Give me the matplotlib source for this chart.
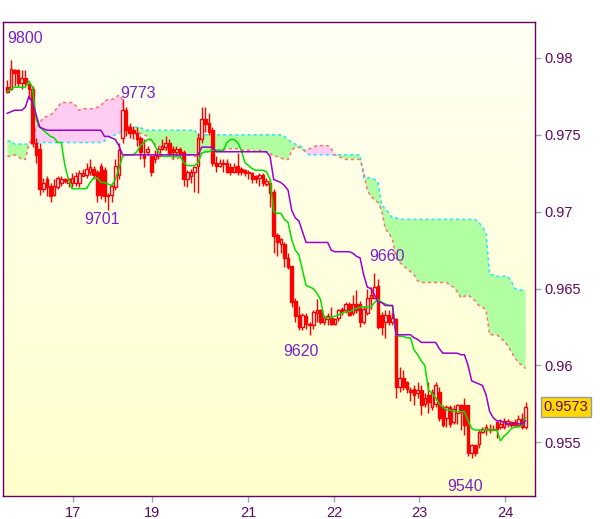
import numpy as np
import matplotlib
matplotlib.use("Agg")
import matplotlib.pyplot as plt
from matplotlib.transforms import blended_transform_factory

# Hourly candles, prices in units of 0.0001
opens = [9781, 9780, 9792, 9792, 9784, 9787, 9783, 9780, 9745, 9741,
         9715, 9721, 9717, 9711, 9716, 9719, 9721, 9719, 9719, 9719,
         9719, 9723, 9724, 9726, 9728, 9726, 9730, 9727, 9710, 9711,
         9716, 9724, 9748, 9766, 9755, 9753, 9751, 9748, 9737, 9739,
         9736, 9734, 9736, 9741, 9742, 9745, 9741, 9739, 9741, 9739,
         9721, 9723, 9726, 9730, 9747, 9760, 9758, 9753, 9732, 9730,
         9732, 9732, 9729, 9726, 9730, 9728, 9727, 9726, 9725, 9723,
         9722, 9724, 9718, 9719, 9713, 9685, 9679, 9679, 9670, 9665,
         9642, 9633, 9625, 9632, 9627, 9626, 9634, 9636, 9628, 9630,
         9631, 9627, 9631, 9637, 9636, 9640, 9634, 9640, 9640, 9628,
         9634, 9644, 9644, 9652, 9633, 9628, 9633, 9628, 9630, 9586,
         9592, 9589, 9584, 9585, 9582, 9584, 9575, 9581, 9573, 9575,
         9583, 9573, 9566, 9573, 9563, 9569, 9574, 9574, 9574, 9543,
         9548, 9549, 9557, 9558, 9558, 9558, 9563, 9560, 9560, 9562,
         9563, 9561, 9561, 9565, 9560]
closes = [9778, 9793, 9790, 9784, 9787, 9784, 9780, 9745, 9737, 9715,
          9719, 9716, 9710, 9717, 9722, 9721, 9720, 9721, 9722, 9723,
          9725, 9725, 9728, 9729, 9724, 9711, 9711, 9710, 9711, 9717,
          9730, 9740, 9766, 9753, 9751, 9751, 9747, 9739, 9735, 9741,
          9726, 9737, 9741, 9743, 9745, 9738, 9739, 9741, 9738, 9721,
          9726, 9726, 9729, 9748, 9760, 9757, 9752, 9732, 9730, 9732,
          9731, 9726, 9726, 9729, 9726, 9726, 9725, 9725, 9721, 9721,
          9724, 9719, 9720, 9712, 9684, 9680, 9682, 9670, 9664, 9641,
          9632, 9625, 9633, 9627, 9626, 9635, 9636, 9628, 9631, 9632,
          9627, 9630, 9636, 9635, 9640, 9633, 9640, 9636, 9628, 9637,
          9644, 9646, 9651, 9625, 9625, 9633, 9628, 9631, 9586, 9592,
          9586, 9585, 9583, 9581, 9584, 9574, 9579, 9576, 9583, 9587,
          9566, 9561, 9573, 9562, 9572, 9574, 9570, 9561, 9543, 9548,
          9543, 9557, 9559, 9560, 9559, 9559, 9559, 9562, 9564, 9564,
          9561, 9563, 9565, 9560, 9573]
highs = [9786, 9799, 9793, 9793, 9792, 9792, 9784, 9782, 9748, 9745,
         9722, 9723, 9719, 9721, 9723, 9723, 9722, 9722, 9725, 9726,
         9727, 9728, 9732, 9734, 9730, 9727, 9732, 9729, 9712, 9719,
         9734, 9745, 9773, 9768, 9758, 9756, 9755, 9749, 9747, 9743,
         9737, 9740, 9743, 9747, 9749, 9747, 9743, 9743, 9742, 9740,
         9727, 9728, 9730, 9751, 9768, 9768, 9764, 9755, 9736, 9734,
         9734, 9734, 9732, 9732, 9738, 9729, 9728, 9727, 9726, 9724,
         9725, 9725, 9722, 9721, 9715, 9686, 9683, 9680, 9673, 9665,
         9644, 9639, 9634, 9634, 9628, 9636, 9643, 9637, 9633, 9634,
         9638, 9631, 9637, 9638, 9641, 9641, 9646, 9649, 9642, 9639,
         9650, 9651, 9660, 9656, 9635, 9636, 9636, 9635, 9631, 9599,
         9597, 9590, 9586, 9587, 9589, 9587, 9582, 9589, 9585, 9589,
         9586, 9574, 9574, 9574, 9574, 9575, 9575, 9579, 9574, 9549,
         9548, 9558, 9560, 9562, 9562, 9561, 9563, 9565, 9566, 9565,
         9564, 9565, 9568, 9569, 9576]
lows = [9777, 9779, 9782, 9782, 9780, 9782, 9773, 9742, 9732, 9711,
        9713, 9710, 9706, 9710, 9715, 9717, 9719, 9716, 9716, 9717,
        9716, 9723, 9722, 9724, 9721, 9706, 9708, 9706, 9701, 9706,
        9714, 9721, 9745, 9749, 9748, 9747, 9743, 9734, 9729, 9737,
        9723, 9732, 9734, 9740, 9740, 9737, 9735, 9737, 9735, 9717,
        9716, 9719, 9713, 9712, 9745, 9752, 9750, 9730, 9726, 9729,
        9726, 9725, 9724, 9725, 9724, 9724, 9723, 9721, 9719, 9719,
        9717, 9717, 9717, 9703, 9673, 9671, 9673, 9664, 9663, 9638,
        9628, 9623, 9623, 9624, 9620, 9624, 9628, 9627, 9626, 9626,
        9626, 9626, 9629, 9633, 9634, 9632, 9633, 9634, 9625, 9627,
        9633, 9637, 9643, 9624, 9620, 9618, 9626, 9626, 9579, 9583,
        9584, 9582, 9577, 9574, 9579, 9568, 9573, 9569, 9571, 9573,
        9564, 9560, 9560, 9560, 9562, 9562, 9558, 9555, 9541, 9540,
        9541, 9546, 9556, 9555, 9556, 9558, 9553, 9559, 9559, 9560,
        9560, 9560, 9560, 9559, 9559]

# Ichimoku lines
tenkan = [9778, 9780, 9781, 9781, 9781, 9781, 9785, 9781, 9760, 9755,
          9753, 9751, 9749, 9748, 9745, 9745, 9730, 9721, 9715, 9715,
          9715, 9715, 9715, 9719, 9722, 9722, 9719, 9719, 9718, 9717,
          9721, 9728, 9736, 9737, 9737, 9737, 9739, 9743, 9745, 9747,
          9747, 9743, 9739, 9736, 9736, 9736, 9736, 9736, 9736, 9732,
          9730, 9730, 9730, 9732, 9738, 9739, 9739, 9740, 9740, 9740,
          9740, 9745, 9747, 9747, 9745, 9740, 9732, 9730, 9728, 9727,
          9727, 9727, 9726, 9721, 9700, 9699, 9699, 9695, 9693, 9682,
          9675, 9672, 9662, 9652, 9651, 9650, 9647, 9643, 9631, 9631,
          9631, 9632, 9633, 9634, 9635, 9635, 9636, 9637, 9638, 9638,
          9638, 9638, 9641, 9643, 9641, 9640, 9639, 9639, 9620, 9619,
          9619, 9618, 9618, 9610, 9607, 9603, 9600, 9584, 9582, 9579,
          9575, 9573, 9571, 9571, 9570, 9570, 9570, 9570, 9564, 9559,
          9558, 9558, 9558, 9558, 9558, 9558, 9558, 9551, 9554, 9556,
          9559, 9560, 9560, 9561, 9566]
kijun = [9764, 9765, 9766, 9766, 9766, 9768, 9775, 9771, 9763, 9755,
         9754, 9753, 9753, 9753, 9753, 9753, 9753, 9753, 9753, 9753,
         9753, 9753, 9753, 9753, 9753, 9753, 9753, 9749, 9749, 9748,
         9747, 9743, 9737, 9737, 9737, 9737, 9737, 9737, 9737, 9737,
         9737, 9737, 9737, 9737, 9737, 9737, 9737, 9737, 9737, 9737,
         9737, 9737, 9737, 9737, 9742, 9742, 9742, 9742, 9739, 9739,
         9739, 9739, 9739, 9739, 9739, 9739, 9739, 9739, 9739, 9739,
         9739, 9739, 9739, 9736, 9721, 9720, 9719, 9717, 9714, 9701,
         9696, 9694, 9687, 9680, 9680, 9680, 9680, 9680, 9680, 9680,
         9675, 9674, 9674, 9674, 9674, 9674, 9673, 9671, 9670, 9659,
         9651, 9650, 9646, 9641, 9641, 9639, 9639, 9639, 9620, 9620,
         9620, 9620, 9620, 9618, 9617, 9615, 9615, 9615, 9615, 9615,
         9611, 9608, 9608, 9608, 9608, 9608, 9607, 9607, 9600, 9590,
         9589, 9588, 9587, 9581, 9570, 9566, 9564, 9564, 9563, 9562,
         9562, 9562, 9562, 9562, 9564]
span_a = [9746, 9746, 9744, 9744, 9744, 9744, 9744, 9744, 9744, 9745,
          9745, 9745, 9745, 9745, 9745, 9745, 9745, 9745, 9745, 9745,
          9745, 9745, 9745, 9745, 9745, 9745, 9745, 9746, 9749, 9749,
          9750, 9751, 9753, 9755, 9755, 9755, 9755, 9755, 9753, 9753,
          9753, 9753, 9753, 9753, 9753, 9753, 9753, 9753, 9753, 9753,
          9753, 9753, 9753, 9750, 9750, 9750, 9750, 9750, 9750, 9750,
          9750, 9750, 9750, 9750, 9750, 9750, 9750, 9750, 9750, 9750,
          9750, 9750, 9750, 9750, 9750, 9750, 9750, 9749, 9747, 9745,
          9744, 9743, 9742, 9738, 9737, 9737, 9737, 9737, 9737, 9737,
          9737, 9737, 9737, 9737, 9737, 9737, 9737, 9737, 9737, 9722,
          9722, 9722, 9721, 9719, 9704, 9702, 9699, 9696, 9696, 9695,
          9695, 9695, 9695, 9695, 9695, 9695, 9695, 9695, 9695, 9695,
          9695, 9695, 9695, 9695, 9695, 9695, 9695, 9695, 9695, 9695,
          9695, 9693, 9690, 9686, 9659, 9659, 9658, 9658, 9658, 9658,
          9655, 9650, 9649, 9649, 9649]
span_b = [9736, 9736, 9737, 9736, 9734, 9734, 9744, 9748, 9755, 9758,
          9761, 9762, 9763, 9765, 9768, 9771, 9771, 9771, 9771, 9769,
          9766, 9767, 9767, 9767, 9767, 9768, 9769, 9772, 9773, 9773,
          9774, 9776, 9773, 9758, 9755, 9753, 9752, 9751, 9750, 9749,
          9746, 9744, 9743, 9742, 9740, 9737, 9734, 9734, 9736, 9737,
          9737, 9737, 9736, 9737, 9738, 9739, 9739, 9739, 9740, 9740,
          9740, 9741, 9741, 9741, 9741, 9740, 9740, 9740, 9740, 9739,
          9740, 9739, 9739, 9738, 9736, 9736, 9735, 9734, 9734, 9740,
          9742, 9742, 9740, 9740, 9741, 9742, 9743, 9743, 9743, 9743,
          9741, 9737, 9736, 9735, 9734, 9734, 9734, 9734, 9734, 9726,
          9714, 9710, 9708, 9706, 9701, 9689, 9686, 9682, 9670, 9667,
          9665, 9663, 9661, 9659, 9655, 9654, 9654, 9654, 9654, 9654,
          9654, 9654, 9654, 9652, 9651, 9648, 9644, 9645, 9646, 9644,
          9642, 9639, 9638, 9636, 9620, 9620, 9620, 9618, 9616, 9613,
          9609, 9605, 9602, 9600, 9598]

# day labels and where they sit on the candle index
day_ticks = [18.25, 40.2, 66.9, 90.75, 114.4, 138.3]
day_labels = ["17", "19", "21", "22", "23", "24"]
price_ticks = [0.955, 0.96, 0.965, 0.97, 0.975, 0.98]
price_tick_labels = ["0.955", "0.96", "0.965", "0.97", "0.975", "0.98"]

# swing high / low notes (candle index, price, text)
notes = [(4.9, 0.98126, "9800"), (36.2, 0.97768, "9773"),
         (26.3, 0.96951, "9701"), (81.5, 0.96092, "9620"),
         (105.5, 0.96707, "9660"), (127.1, 0.95216, "9540")]
last_price = 0.9573

P = lambda a: np.asarray(a, dtype=float) / 10000.0
o, c, h, l = P(opens), P(closes), P(highs), P(lows)
ta, kj, sa, sb = P(tenkan), P(kijun), P(span_a), P(span_b)
idx = np.arange(len(o))

TXT = "#5E0A5E"
FONT = "Liberation Sans"

fig = plt.figure(figsize=(6.0, 5.19), dpi=100)
ax = fig.add_axes([3 / 600, 1 - 496 / 519, 532 / 600, 474 / 519])
x0, x1 = -1.2, 146.6
y0, y1 = 0.95151, 0.98234

# pale yellow gradient background
grad = np.linspace(0, 1, 256).reshape(-1, 1)
top = np.array([1.0, 1.0, 0.955])
bot = np.array([1.0, 1.0, 0.80])
img = top + (bot - top) * grad[..., None]
ax.imshow(img, extent=[x0, x1, y0, y1], aspect="auto", origin="upper", zorder=0)

# cloud
ax.fill_between(idx, sa, sb, where=sa >= sb, interpolate=True,
                color="#B2FFA2", lw=0, zorder=1)
ax.fill_between(idx, sa, sb, where=sa < sb, interpolate=True,
                color="#FFCCF2", lw=0, zorder=1)
ax.plot(idx, sa, color="#22E4FF", lw=1.1, ls=(0, (2, 2)), zorder=2)
ax.plot(idx, sb, color="#FF6E6E", lw=1.1, ls=(0, (2, 2)), zorder=2)

# candles
up = c >= o
body_lo = np.minimum(o, c)
body_h = np.maximum(np.abs(c - o), 0.000025)
ax.vlines(idx, l, h, color="#FF0000", lw=1, zorder=3)
ax.bar(idx[up], body_h[up], bottom=body_lo[up], width=0.72,
       facecolor="#FFFFFF", edgecolor="#FF0000", lw=1, zorder=4)
ax.bar(idx[~up], body_h[~up], bottom=body_lo[~up], width=0.72,
       facecolor="#FF0000", edgecolor="#FF0000", lw=1, zorder=4)

# conversion / base lines
ax.plot(idx, ta, color="#00E000", lw=1.1, zorder=5)
ax.plot(idx, kj, color="#9A00D0", lw=1.1, zorder=5)

for xi, yi, s in notes:
    ax.text(xi, yi, s, color="#7A20C8", fontsize=11.5, family=FONT,
            ha="center", va="center", zorder=6)

ax.set_xlim(x0, x1)
ax.set_ylim(y0, y1)

ax.yaxis.tick_right()
ax.set_yticks(price_ticks)
ax.set_yticklabels(price_tick_labels)
ax.set_xticks(day_ticks)
ax.set_xticklabels(day_labels)
ax.tick_params(axis="both", colors="#9AA6B0", labelcolor=TXT,
               length=4, width=1, labelsize=10.5, pad=3)
for lab in ax.get_xticklabels() + ax.get_yticklabels():
    lab.set_family(FONT)
for sp in ax.spines.values():
    sp.set_color("#660066")
    sp.set_linewidth(1)

# last price tag
tr = blended_transform_factory(ax.transAxes, ax.transData)
ax.text(1.016, last_price, f"{last_price:.4f}", transform=tr, ha="left",
        va="center", color=TXT, fontsize=10.5, family=FONT, clip_on=False,
        bbox=dict(boxstyle="square,pad=0.18", fc="#FFD800", ec="#9A9A9A", lw=1))

fig.savefig("out.png", dpi=100)
